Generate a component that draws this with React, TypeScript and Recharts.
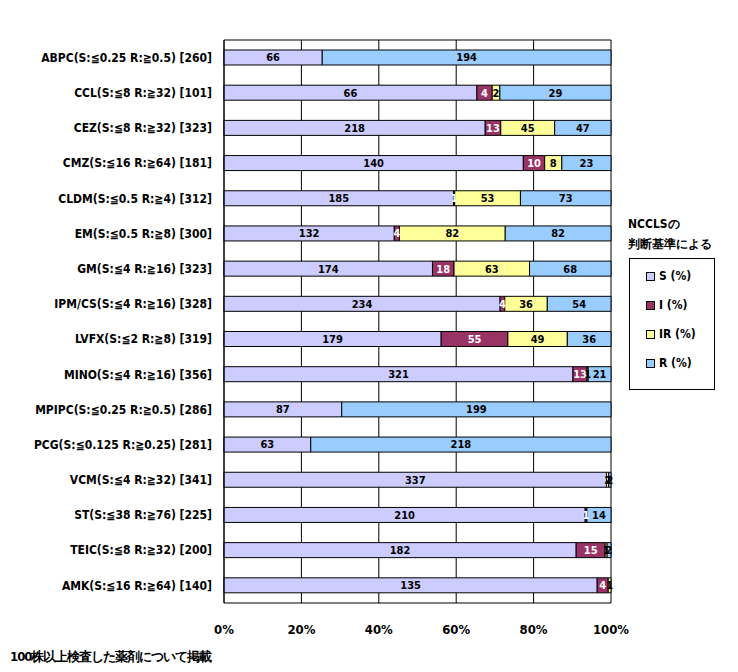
import React from "react";
import { BarChart, Bar, XAxis, YAxis, CartesianGrid, LabelList } from "recharts";

const categories = [
  "ABPC(S:≦0.25 R:≧0.5) [260]",
  "CCL(S:≦8 R:≧32) [101]",
  "CEZ(S:≦8 R:≧32) [323]",
  "CMZ(S:≦16 R:≧64) [181]",
  "CLDM(S:≦0.5 R:≧4) [312]",
  "EM(S:≦0.5 R:≧8) [300]",
  "GM(S:≦4 R:≧16) [323]",
  "IPM/CS(S:≦4 R:≧16) [328]",
  "LVFX(S:≦2 R:≧8) [319]",
  "MINO(S:≦4 R:≧16) [356]",
  "MPIPC(S:≦0.25 R:≧0.5) [286]",
  "PCG(S:≦0.125 R:≧0.25) [281]",
  "VCM(S:≦4 R:≧32) [341]",
  "ST(S:≦38 R:≧76) [225]",
  "TEIC(S:≦8 R:≧32) [200]",
  "AMK(S:≦16 R:≧64) [140]",
];
const sVals = [66, 66, 218, 140, 185, 132, 174, 234, 179, 321, 87, 63, 337, 210, 182, 135];
const iVals = [0, 4, 13, 10, 1, 4, 18, 4, 55, 13, 0, 0, 0, 1, 15, 4];
const irVals = [0, 2, 45, 8, 53, 82, 63, 36, 49, 1, 0, 0, 2, 0, 1, 1];
const rVals = [194, 29, 47, 23, 73, 82, 68, 54, 36, 21, 199, 218, 2, 14, 2, 0];
const xTicks = [0, 0.2, 0.4, 0.6, 0.8, 1];

const data = categories.map((c, k) => ({ name: c, S: sVals[k], I: iVals[k], IR: irVals[k], R: rVals[k] }));

const FONT = "'DejaVu Sans Condensed', 'DejaVu Sans', sans-serif";
const fmt = (v: any) => (v ? v : "");

const series = [
  { key: "S", color: "#CCCCFF", text: "#000" },
  { key: "I", color: "#993366", text: "#fff" },
  { key: "IR", color: "#FFFF99", text: "#000" },
  { key: "R", color: "#99CCFF", text: "#000" },
];

const legendItems = [
  { label: "S (%)", color: "#CCCCFF" },
  { label: "I (%)", color: "#993366" },
  { label: "IR (%)", color: "#FFFF99" },
  { label: "R (%)", color: "#99CCFF" },
];

export default function App() {
  return (
    <div style={{ position: "relative", width: 730, height: 664, background: "#fff" }}>
      <BarChart
        width={730}
        height={664}
        data={data}
        layout="vertical"
        stackOffset="expand"
        barSize={15}
        margin={{ top: 32, right: 127, bottom: 39, left: 0 }}
      >
        <CartesianGrid stroke="#000" horizontalPoints={[32, 595]} />
        <XAxis
          type="number"
          domain={[0, 1]}
          ticks={xTicks}
          tickFormatter={(v) => `${Math.round(v * 100)}%`}
          axisLine={false}
          tickLine={false}
          height={30}
          tick={{ fontFamily: FONT, fontSize: 13, fontWeight: "bold", fill: "#000", dy: 14 }}
        />
        <YAxis
          type="category"
          dataKey="name"
          width={216}
          axisLine={{ stroke: "#000" }}
          tickLine={false}
          interval={0}
          tick={{ fontFamily: FONT, fontSize: 12, fontWeight: "bold", fill: "#000", dx: -4 }}
        />
        {series.map((s) => (
          <Bar key={s.key} dataKey={s.key} stackId="a" fill={s.color} stroke="#000" strokeWidth={1} isAnimationActive={false}>
            <LabelList
              dataKey={s.key}
              position="center"
              formatter={fmt}
              style={{ fontFamily: FONT, fontSize: 11, fontWeight: "bold", fill: s.text }}
            />
          </Bar>
        ))}
      </BarChart>
      <div style={{ position: "absolute", left: 620, top: 206, fontFamily: FONT, fontSize: 12, fontWeight: "bold", lineHeight: "20px" }}>
        NCCLSの<br />判断基準による
      </div>
      <div style={{ position: "absolute", left: 621, top: 250, width: 84, height: 130, border: "1px solid #000", fontFamily: FONT, fontSize: 12, fontWeight: "bold" }}>
        {legendItems.map((l, k) => (
          <div key={k} style={{ position: "absolute", left: 16, top: 10 + k * 29, display: "flex", alignItems: "center" }}>
            <span style={{ width: 7, height: 7, background: l.color, border: "1px solid #000", marginRight: 4 }} />
            {l.label}
          </div>
        ))}
      </div>
      <div style={{ position: "absolute", left: 2, top: 640, fontFamily: FONT, fontSize: 13, fontWeight: "bold", letterSpacing: -1 }}>
        100株以上検査した薬剤について掲載
      </div>
    </div>
  );
}
